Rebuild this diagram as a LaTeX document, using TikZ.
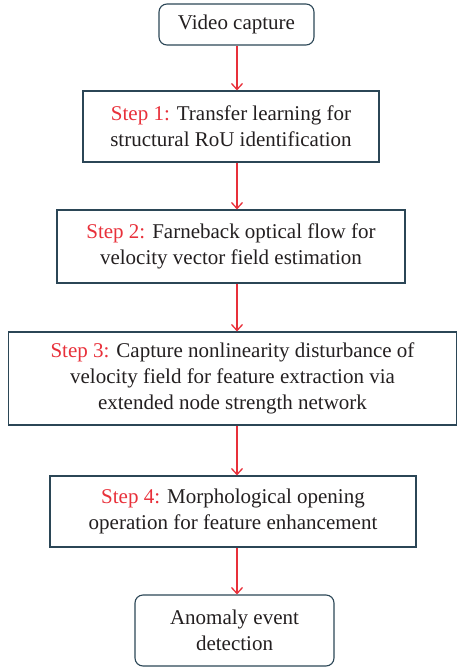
\documentclass[tikz,border=0pt]{standalone}
\usepackage{fontspec}
\setmainfont{Liberation Serif}
\usetikzlibrary{arrows.meta}
\definecolor{boxline}{HTML}{2B4656}
\definecolor{stepred}{HTML}{E8303A}
\definecolor{txt}{HTML}{231F20}
\begin{document}
\begin{tikzpicture}[x=1pt,y=-1pt,
  box/.style={draw=boxline, line width=1.1pt, inner sep=0pt, align=center, text=txt, font=\fontsize{21}{26}\selectfont},
  rbox/.style={box, rounded corners=8pt},
  flow/.style={draw=stepred, line width=1.3pt, -{Straight Barb[length=6pt,width=11pt,line width=1.3pt]}}]
\useasboundingbox (0,0) rectangle (458,669);
\node[rbox, minimum width=155, minimum height=41] (vc) at (236.5,24.5) {Video capture};
\node[box, minimum width=296, minimum height=71] (s1) at (231,126.5) {\textcolor{stepred}{Step 1:} Transfer learning for\\structural RoU identification};
\node[box, minimum width=348, minimum height=73] (s2) at (231,246.5) {\textcolor{stepred}{Step 2:} Farneback optical flow for\\velocity vector field estimation};
\node[box, minimum width=448, minimum height=93] (s3) at (232.5,378.5) {\textcolor{stepred}{Step 3:} Capture nonlinearity disturbance of\\velocity field for feature extraction via\\extended node strength network};
\node[box, minimum width=366, minimum height=71] (s4) at (233,511.5) {\textcolor{stepred}{Step 4:} Morphological opening\\operation for feature enhancement};
\node[rbox, minimum width=199, minimum height=71] (an) at (234.5,630.5) {Anomaly event\\detection};
\coordinate (ax) at (237,0);
\draw[flow] (ax |- vc.south) -- (ax |- s1.north);
\draw[flow] (ax |- s1.south) -- (ax |- s2.north);
\draw[flow] (ax |- s2.south) -- (ax |- s3.north);
\draw[flow] (ax |- s3.south) -- (ax |- s4.north);
\draw[flow] (ax |- s4.south) -- (ax |- an.north);
\end{tikzpicture}
\end{document}
